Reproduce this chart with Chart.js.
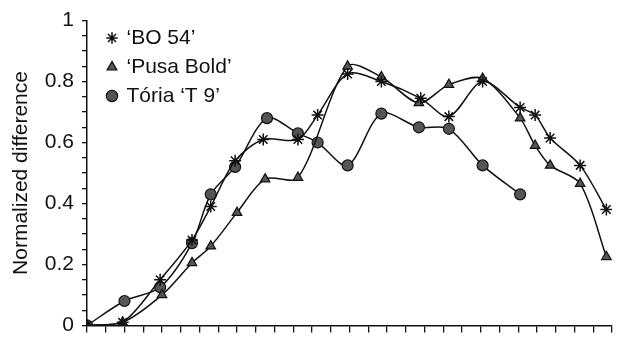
<!DOCTYPE html>
<html>
<head>
<meta charset="utf-8">
<script src="https://cdn.jsdelivr.net/npm/chart.js@4"></script>
<style>
  html, body { margin: 0; padding: 0; background: #fff; }
  #wrap { width: 623px; height: 346px; }
</style>
</head>
<body>
<div id="wrap"><canvas id="chart"></canvas></div>
<script>
// --- data (x in tick units, 0..28) ---
const seriesNames = ["\u2018BO 54\u2019", "\u2018Pusa Bold\u2019", "T\u00f3ria \u2018T 9\u2019"];

const bo54X = [0, 1.9, 3.9, 5.6, 6.6, 7.9, 9.4, 11.25, 12.3, 13.9, 15.7, 17.8, 19.3, 21.1, 23.1, 23.9, 24.7, 26.3, 27.7];
const bo54Y = [0, 0.01, 0.15, 0.28, 0.39, 0.54, 0.61, 0.61, 0.69, 0.825, 0.80, 0.745, 0.685, 0.80, 0.715, 0.69, 0.615, 0.525, 0.38];

const pusaX = [0, 1.9, 4.0, 5.6, 6.6, 8.0, 9.5, 11.25, 13.9, 15.7, 17.7, 19.3, 21.1, 23.1, 23.9, 24.7, 26.3, 27.7];
const pusaY = [0, 0.01, 0.10, 0.205, 0.26, 0.37, 0.48, 0.485, 0.85, 0.815, 0.73, 0.79, 0.81, 0.68, 0.59, 0.525, 0.465, 0.225];

const toriaX = [0, 2.0, 3.9, 5.6, 6.6, 7.9, 9.6, 11.25, 12.3, 13.9, 15.7, 17.7, 19.3, 21.1, 23.1];
const toriaY = [0, 0.08, 0.125, 0.27, 0.43, 0.52, 0.68, 0.63, 0.60, 0.525, 0.695, 0.65, 0.645, 0.525, 0.43];

const yMajorTicks = [0, 0.2, 0.4, 0.6, 0.8, 1];

function pts(xs, ys) { return xs.map((x, i) => ({ x: x, y: ys[i] })); }

const ink = "#111";
const font = "'Liberation Sans', Arial, sans-serif";

function series(label, data, style, radius) {
  return {
    label: label,
    data: data,
    borderColor: ink,
    borderWidth: 1.5,
    tension: 0.3,
    pointStyle: style,
    pointRadius: radius,
    pointBorderColor: ink,
    pointBackgroundColor: "#555",
    pointBorderWidth: style === "star" ? 1.5 : 1.2,
    fill: false
  };
}

// legend sits inside the plot, a bit in from the top-left corner
const legendSpot = {
  id: "legendSpot",
  afterLayout(chart) {
    const lg = chart.legend;
    if (!lg) return;
    const w = lg.width, h = lg.height;
    lg.left = 100; lg.top = 19.5;
    lg.right = lg.left + w; lg.bottom = lg.top + h;
  }
};

new Chart(document.getElementById("chart"), {
  type: "line",
  data: {
    datasets: [
      series(seriesNames[0], pts(bo54X, bo54Y), "star", 6),
      series(seriesNames[1], pts(pusaX, pusaY), "triangle", 5.5),
      series(seriesNames[2], pts(toriaX, toriaY), "circle", 5.5)
    ]
  },
  plugins: [legendSpot],
  options: {
    responsive: true,
    maintainAspectRatio: false,
    animation: false,
    layout: { padding: { top: 20, right: 11, left: 0, bottom: 0 } },
    plugins: {
      tooltip: { enabled: false },
      legend: {
        position: "chartArea",
        align: "start",
        labels: {
          usePointStyle: true,
          boxWidth: 8,
          boxHeight: 8,
          padding: 8,
          color: ink,
          font: { family: font, size: 21 }
        }
      }
    },
    scales: {
      x: {
        type: "linear",
        min: 0,
        max: 28,
        ticks: { stepSize: 1, display: false },
        grid: { drawOnChartArea: false, drawTicks: true, tickLength: 7, color: ink, lineWidth: 1.3 },
        border: { display: true, color: ink, width: 1.5 },
        afterFit: s => { s.height = 14; }
      },
      y: {
        min: 0,
        max: 1,
        ticks: {
          stepSize: 0.05,
          autoSkip: false,
          padding: 8,
          color: ink,
          font: { family: font, size: 21 },
          callback: v => {
            const m = yMajorTicks.find(t => Math.abs(t - v) < 1e-6);
            return m === undefined ? "" : String(m);
          }
        },
        grid: { drawOnChartArea: false, drawTicks: true, tickLength: 5, color: ink, lineWidth: 1.3 },
        border: { display: true, color: ink, width: 1.5 },
        title: {
          display: true,
          text: "Normalized difference",
          color: ink,
          font: { family: font, size: 21 },
          padding: { top: 9, bottom: 0 }
        },
        afterFit: s => { s.width = 87; }
      }
    }
  }
});
</script>
</body>
</html>
